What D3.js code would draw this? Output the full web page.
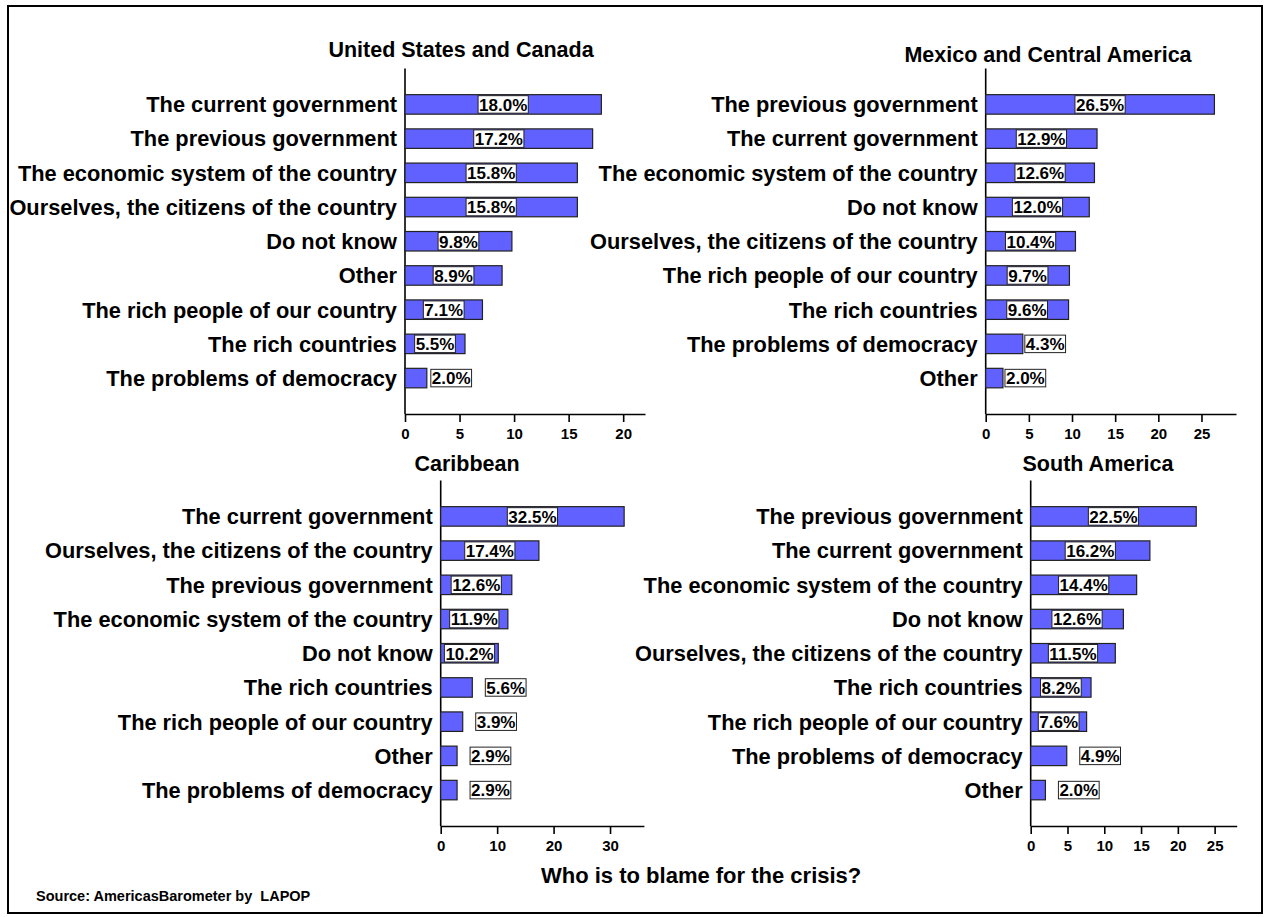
<!DOCTYPE html>
<html>
<head>
<meta charset="utf-8">
<script src="https://cdn.jsdelivr.net/npm/d3@7/dist/d3.min.js"></script>
<style>
  body { margin: 0; background: #fff; }
  svg { display: block; font-family: "Liberation Sans", Arial, Helvetica, sans-serif; }
</style>
</head>
<body>
<svg id="chart" width="1268" height="917"></svg>
<script>
// --- data ---
const usCategories = [
  'The current government', 'The previous government', 'The economic system of the country',
  'Ourselves, the citizens of the country', 'Do not know', 'Other',
  'The rich people of our country', 'The rich countries', 'The problems of democracy'
];
const usValues = [18.0, 17.2, 15.8, 15.8, 9.8, 8.9, 7.1, 5.5, 2.0];

const mexCategories = [
  'The previous government', 'The current government', 'The economic system of the country',
  'Do not know', 'Ourselves, the citizens of the country', 'The rich people of our country',
  'The rich countries', 'The problems of democracy', 'Other'
];
const mexValues = [26.5, 12.9, 12.6, 12.0, 10.4, 9.7, 9.6, 4.3, 2.0];

const caribCategories = [
  'The current government', 'Ourselves, the citizens of the country', 'The previous government',
  'The economic system of the country', 'Do not know', 'The rich countries',
  'The rich people of our country', 'Other', 'The problems of democracy'
];
const caribValues = [32.5, 17.4, 12.6, 11.9, 10.2, 5.6, 3.9, 2.9, 2.9];

const saCategories = [
  'The previous government', 'The current government', 'The economic system of the country',
  'Do not know', 'Ourselves, the citizens of the country', 'The rich countries',
  'The rich people of our country', 'The problems of democracy', 'Other'
];
const saValues = [22.5, 16.2, 14.4, 12.6, 11.5, 8.2, 7.6, 4.9, 2.0];

const usTicks = [0, 5, 10, 15, 20];
const mexTicks = [0, 5, 10, 15, 20, 25];
const caribTicks = [0, 10, 20, 30];
const saTicks = [0, 5, 10, 15, 20, 25];

const chartTitle = 'Who is to blame for the crisis?';
const sourceNote = 'Source: AmericasBarometer by  LAPOP';

// --- layout of the four panels ---
const panels = [
  { title: 'United States and Canada', cats: usCategories, vals: usValues, ticks: usTicks,
    max: 22, x0: 405, x1: 645, top: 68.5, bottom: 414, titleX: 461, titleY: 57, gap: 4 },
  { title: 'Mexico and Central America', cats: mexCategories, vals: mexValues, ticks: mexTicks,
    max: 29, x0: 985.7, x1: 1236, top: 68.5, bottom: 414, titleX: 1048, titleY: 62, gap: 2 },
  { title: 'Caribbean', cats: caribCategories, vals: caribValues, ticks: caribTicks,
    max: 36, x0: 440.7, x1: 643.9, top: 480.5, bottom: 826, titleX: 467, titleY: 471, gap: 13 },
  { title: 'South America', cats: saCategories, vals: saValues, ticks: saTicks,
    max: 28, x0: 1030.7, x1: 1236.7, top: 480.5, bottom: 826, titleX: 1098, titleY: 471, gap: 13 }
];

const barFill = '#6161ff';
const barHeight = 19.5;

const svg = d3.select('#chart');

// outer frame
svg.append('rect')
    .attr('x', 8).attr('y', 6)
    .attr('width', 1254).attr('height', 907)
    .attr('fill', 'none')
    .attr('stroke', '#000')
    .attr('stroke-width', 2);

panels.forEach((p) => {
  const x = d3.scaleLinear().domain([0, p.max]).range([p.x0, p.x1]);
  const y = d3.scalePoint().domain(p.cats).range([p.top, p.bottom]).padding(1.05);
  const rows = p.cats.map((c, i) => ({ cat: c, val: p.vals[i] }));

  const g = svg.append('g');

  g.append('text')
      .attr('x', p.titleX).attr('y', p.titleY)
      .attr('text-anchor', 'middle')
      .style('font-size', '21.5px')
      .style('font-weight', 'bold')
      .text(p.title);

  // x axis
  const xAxis = d3.axisBottom(x)
      .tickValues(p.ticks)
      .tickSize(8)
      .tickSizeOuter(0)
      .tickPadding(6);
  const ax = g.append('g')
      .attr('transform', 'translate(0,' + p.bottom + ')')
      .call(xAxis);
  ax.select('.domain').attr('stroke-width', 1.6);
  ax.selectAll('.tick line').attr('stroke-width', 1.6);
  ax.selectAll('.tick text')
      .style('font-size', '15px')
      .style('font-weight', 'bold')
      .style('font-family', '"Liberation Sans", Arial, sans-serif')
      .attr('fill', '#000');

  // y axis line, no ticks
  g.append('line')
      .attr('x1', p.x0).attr('x2', p.x0)
      .attr('y1', p.top).attr('y2', p.bottom)
      .attr('stroke', '#000')
      .attr('stroke-width', 1.6);

  // category labels
  g.selectAll('text.cat')
      .data(rows)
      .enter()
      .append('text')
      .classed('cat', true)
      .attr('x', p.x0 - 8)
      .attr('y', (d) => y(d.cat))
      .attr('dy', '0.36em')
      .attr('text-anchor', 'end')
      .style('font-size', '21.8px')
      .style('font-weight', 'bold')
      .text((d) => d.cat);

  // bars
  g.selectAll('rect.bar')
      .data(rows)
      .enter()
      .append('rect')
      .classed('bar', true)
      .attr('x', x(0))
      .attr('y', (d) => y(d.cat) - barHeight / 2)
      .attr('width', (d) => x(d.val) - x(0))
      .attr('height', barHeight)
      .attr('fill', barFill)
      .attr('stroke', '#222')
      .attr('stroke-width', 1.2);

  // value labels in white boxes
  const labels = g.selectAll('g.val')
      .data(rows)
      .enter()
      .append('g')
      .classed('val', true);

  labels.each(function (d) {
    const lg = d3.select(this);
    const box = lg.append('rect');
    const t = lg.append('text')
        .attr('text-anchor', 'middle')
        .attr('dy', '0.37em')
        .style('font-size', '17px')
        .style('font-weight', '600')
        .attr('fill', '#000')
        .text(d.val.toFixed(1) + '%');
    const w = t.node().getComputedTextLength() + 2;
    const barW = x(d.val) - x(0);
    // centre the label in the bar if it fits, else put it just past the end
    const cx = w <= barW ? x(d.val / 2) : x(d.val) + p.gap + w / 2;
    const cy = y(d.cat);
    t.attr('x', cx).attr('y', cy);
    box.attr('x', cx - w / 2)
        .attr('y', cy - 8.75)
        .attr('width', w)
        .attr('height', 17.5)
        .attr('fill', '#fff')
        .attr('stroke', '#222')
        .attr('stroke-width', 1);
  });
});

svg.append('text')
    .attr('x', 541).attr('y', 883)
    .style('font-size', '22px')
    .style('font-weight', 'bold')
    .text(chartTitle);

svg.append('text')
    .attr('x', 36).attr('y', 901)
    .attr('xml:space', 'preserve')
    .style('white-space', 'pre')
    .style('font-size', '14.5px')
    .style('font-weight', 'bold')
    .text(sourceNote);
</script>
</body>
</html>
